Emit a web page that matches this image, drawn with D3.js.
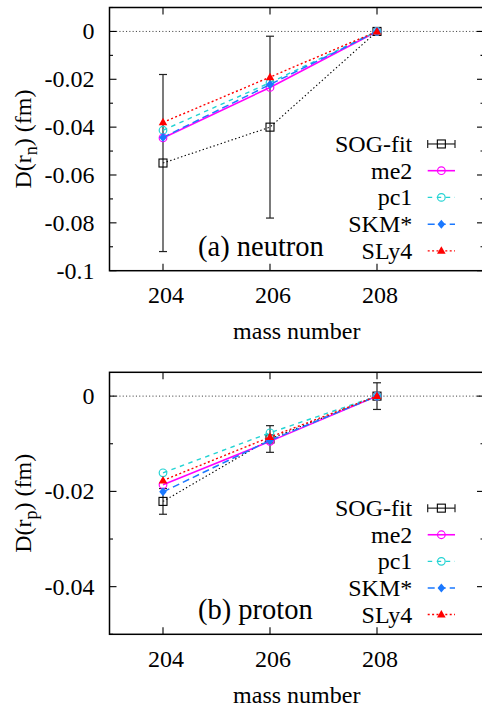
<!DOCTYPE html>
<html>
<head>
<meta charset="utf-8">
<script src="https://cdn.jsdelivr.net/npm/d3@7"></script>
<style>
  body { margin: 0; background: #fff; }
  svg { display: block; }
</style>
</head>
<body>
<svg id="chart" width="482" height="707"></svg>
<script>
// ---- data ----
const massNumbers = [204, 206, 208];
const xTickValues = [204, 206, 208];
const seriesNames = ["SOG-fit", "me2", "pc1", "SKM*", "SLy4"];

// neutron radius differences (fm)
const neutronSOG = [-0.055, -0.040, 0];
const neutronSOGErr = [0.037, 0.038, 0];
const neutronMe2 = [-0.0445, -0.0234, 0];
const neutronPc1 = [-0.0413, -0.0214, 0];
const neutronSKM = [-0.0443, -0.0222, 0];
const neutronSLy4 = [-0.0380, -0.0191, 0];
const neutronTicks = [0, -0.02, -0.04, -0.06, -0.08, -0.1];
const neutronTickLabels = ["0", "-0.02", "-0.04", "-0.06", "-0.08", "-0.1"];
const neutronMinorTicks = [0.01, -0.01, -0.03, -0.05, -0.07, -0.09];

// proton radius differences (fm)
const protonSOG = [-0.0221, -0.0090, 0];
const protonSOGErr = [0.0027, 0.0028, 0.0028];
const protonMe2 = [-0.0186, -0.0095, 0];
const protonPc1 = [-0.0161, -0.0077, 0];
const protonSKM = [-0.0201, -0.0093, 0];
const protonSLy4 = [-0.0177, -0.0086, 0];
const protonTicks = [0, -0.02, -0.04];
const protonTickLabels = ["0", "-0.02", "-0.04"];
const protonMinorTicks = [-0.01, -0.03, -0.05];

// ---- styles ----
const FONT = "'Liberation Serif', 'DejaVu Serif', serif";
const styles = {
  "SOG-fit": { color: "#000", dash: "1.4,2.4", width: 1.1, marker: "square" },
  "me2":     { color: "#ff00ff", dash: null, width: 1.6, marker: "circle" },
  "pc1":     { color: "#22d3d3", dash: "4.5,4.5", width: 1.4, marker: "circle" },
  "SKM*":    { color: "#1a78ff", dash: "7,4", width: 1.5, marker: "diamond" },
  "SLy4":    { color: "#ff0000", dash: "2,2.4", width: 1.4, marker: "triangle" }
};

const panels = [
  {
    top: 7.5, bottom: 270.7,
    yDomain: [-0.1, 0.01],
    ticks: neutronTicks, tickLabels: neutronTickLabels, minor: neutronMinorTicks,
    label: "(a) neutron", sub: "n",
    sog: neutronSOG, sogErr: neutronSOGErr,
    models: { "me2": neutronMe2, "pc1": neutronPc1, "SKM*": neutronSKM, "SLy4": neutronSLy4 }
  },
  {
    top: 372.3, bottom: 634.3,
    yDomain: [-0.05, 0.005],
    ticks: protonTicks, tickLabels: protonTickLabels, minor: protonMinorTicks,
    label: "(b) proton", sub: "p",
    sog: protonSOG, sogErr: protonSOGErr,
    models: { "me2": protonMe2, "pc1": protonPc1, "SKM*": protonSKM, "SLy4": protonSLy4 }
  }
];

const svg = d3.select("#chart");
const left = 109.5, right = 484;
const x = d3.scaleLinear().domain([203, 210]).range([left, right]);

// Text is laid out at double size inside a half-scale group so the serif
// outlines are rasterised from the large glyphs.
function label(g, tx, ty, size, rotate) {
  const holder = g.append("g")
    .attr("transform", `translate(${tx},${ty})${rotate ? " rotate(" + rotate + ")" : ""} scale(0.5)`);
  return holder.append("text")
    .attr("font-family", FONT).style("font-family", FONT)
    .attr("fill", "#000").attr("font-size", size * 2);
}

function drawMarker(g, type, cx, cy, color) {
  if (type === "square") {
    g.append("rect").attr("x", cx - 4).attr("y", cy - 4).attr("width", 8).attr("height", 8)
      .attr("fill", "none").attr("stroke", color).attr("stroke-width", 1.1);
  } else if (type === "circle") {
    g.append("circle").attr("cx", cx).attr("cy", cy).attr("r", 3.8)
      .attr("fill", "none").attr("stroke", color).attr("stroke-width", 1.2);
  } else if (type === "diamond") {
    g.append("path").attr("d", `M${cx},${cy - 4.5}L${cx + 3.8},${cy}L${cx},${cy + 4.5}L${cx - 3.8},${cy}Z`)
      .attr("fill", color);
  } else if (type === "triangle") {
    g.append("path").attr("d", `M${cx},${cy - 4.5}L${cx + 4.3},${cy + 3}L${cx - 4.3},${cy + 3}Z`)
      .attr("fill", color);
  }
}

panels.forEach(p => {
  const y = d3.scaleLinear().domain(p.yDomain).range([p.bottom, p.top]);
  const g = svg.append("g");

  // dotted zero reference line
  g.append("line").attr("x1", left).attr("x2", right).attr("y1", y(0)).attr("y2", y(0))
    .attr("stroke", "#444").attr("stroke-width", 1).attr("stroke-dasharray", "1.1,2.2");

  // frame
  g.append("rect").attr("x", left).attr("y", p.top).attr("width", right - left).attr("height", p.bottom - p.top)
    .attr("fill", "none").attr("stroke", "#000").attr("stroke-width", 1.5);

  // y ticks (major + minor, both sides, inward)
  p.ticks.forEach(v => {
    g.append("line").attr("x1", left).attr("x2", left + 7).attr("y1", y(v)).attr("y2", y(v)).attr("stroke", "#000").attr("stroke-width", 1.1);
    g.append("line").attr("x1", right).attr("x2", right - 7).attr("y1", y(v)).attr("y2", y(v)).attr("stroke", "#000").attr("stroke-width", 1.1);
  });
  p.minor.forEach(v => {
    g.append("line").attr("x1", left).attr("x2", left + 3.5).attr("y1", y(v)).attr("y2", y(v)).attr("stroke", "#000").attr("stroke-width", 1.1);
    g.append("line").attr("x1", right).attr("x2", right - 3.5).attr("y1", y(v)).attr("y2", y(v)).attr("stroke", "#000").attr("stroke-width", 1.1);
  });
  p.ticks.forEach((v, i) => {
    label(g, 94.5, y(v) + 8, 24).attr("text-anchor", "end").text(p.tickLabels[i]);
  });

  // x ticks
  xTickValues.forEach(v => {
    g.append("line").attr("x1", x(v)).attr("x2", x(v)).attr("y1", p.bottom).attr("y2", p.bottom - 7).attr("stroke", "#000").attr("stroke-width", 1.1);
    g.append("line").attr("x1", x(v)).attr("x2", x(v)).attr("y1", p.top).attr("y2", p.top + 7).attr("stroke", "#000").attr("stroke-width", 1.1);
    label(g, x(v) + 3, p.bottom + 32.7, 24).attr("text-anchor", "middle").text(v);
  });

  // axis titles
  label(g, (left + right) / 2, p.bottom + 68.2, 24).attr("text-anchor", "middle").text("mass number");
  const yl = label(g, 31, (p.top + p.bottom) / 2, 24, -90).attr("text-anchor", "middle");
  yl.append("tspan").text("D(r");
  yl.append("tspan").attr("font-size", 36).attr("dy", 12).text(p.sub);
  yl.append("tspan").attr("dy", -12).text(") (fm)");

  // SOG-fit with error bars
  const line = d3.line().x((d, i) => x(massNumbers[i])).y(d => y(d));
  const sogStyle = styles["SOG-fit"];
  g.append("path").attr("d", line(p.sog)).attr("fill", "none").attr("stroke", sogStyle.color)
    .attr("stroke-width", sogStyle.width).attr("stroke-dasharray", sogStyle.dash);
  p.sog.forEach((v, i) => {
    const e = p.sogErr[i];
    if (e > 0) {
      const cx = x(massNumbers[i]);
      const eb = g.append("g").attr("stroke", "#222").attr("stroke-width", 1.2);
      eb.append("line").attr("x1", cx).attr("x2", cx).attr("y1", y(v + e)).attr("y2", y(v - e));
      eb.append("line").attr("x1", cx - 4).attr("x2", cx + 4).attr("y1", y(v + e)).attr("y2", y(v + e));
      eb.append("line").attr("x1", cx - 4).attr("x2", cx + 4).attr("y1", y(v - e)).attr("y2", y(v - e));
    }
    drawMarker(g, sogStyle.marker, x(massNumbers[i]), y(v), sogStyle.color);
  });

  // model curves
  ["me2", "pc1", "SKM*", "SLy4"].forEach(name => {
    const s = styles[name];
    const vals = p.models[name];
    g.append("path").attr("d", line(vals)).attr("fill", "none").attr("stroke", s.color)
      .attr("stroke-width", s.width).attr("stroke-dasharray", s.dash);
    vals.forEach((v, i) => drawMarker(g, s.marker, x(massNumbers[i]), y(v), s.color));
  });

  // legend
  const rowH = (p.bottom - p.top) / 9.85;
  const legTop = p.top + (p.bottom - p.top) * 0.5185;
  seriesNames.forEach((name, i) => {
    const s = styles[name];
    const ly = legTop + i * rowH;
    label(g, 412.3, ly + 8, 24).attr("text-anchor", "end").text(name);
    const x0 = 427.7, x1 = 455, cx = (x0 + x1) / 2;
    if (name === "SOG-fit") {
      g.append("line").attr("x1", x0).attr("x2", x1).attr("y1", ly).attr("y2", ly).attr("stroke", "#222").attr("stroke-width", 1.2);
      g.append("line").attr("x1", x0).attr("x2", x0).attr("y1", ly - 4).attr("y2", ly + 4).attr("stroke", "#222").attr("stroke-width", 1.2);
      g.append("line").attr("x1", x1).attr("x2", x1).attr("y1", ly - 4).attr("y2", ly + 4).attr("stroke", "#222").attr("stroke-width", 1.2);
    } else {
      g.append("line").attr("x1", x0).attr("x2", x1).attr("y1", ly).attr("y2", ly).attr("stroke", s.color)
        .attr("stroke-width", s.width).attr("stroke-dasharray", s.dash);
    }
    drawMarker(g, s.marker, cx, ly, s.color);
  });

  // panel label
  label(g, 198, p.bottom - 15, 28.5).text(p.label);
});
</script>
</body>
</html>
